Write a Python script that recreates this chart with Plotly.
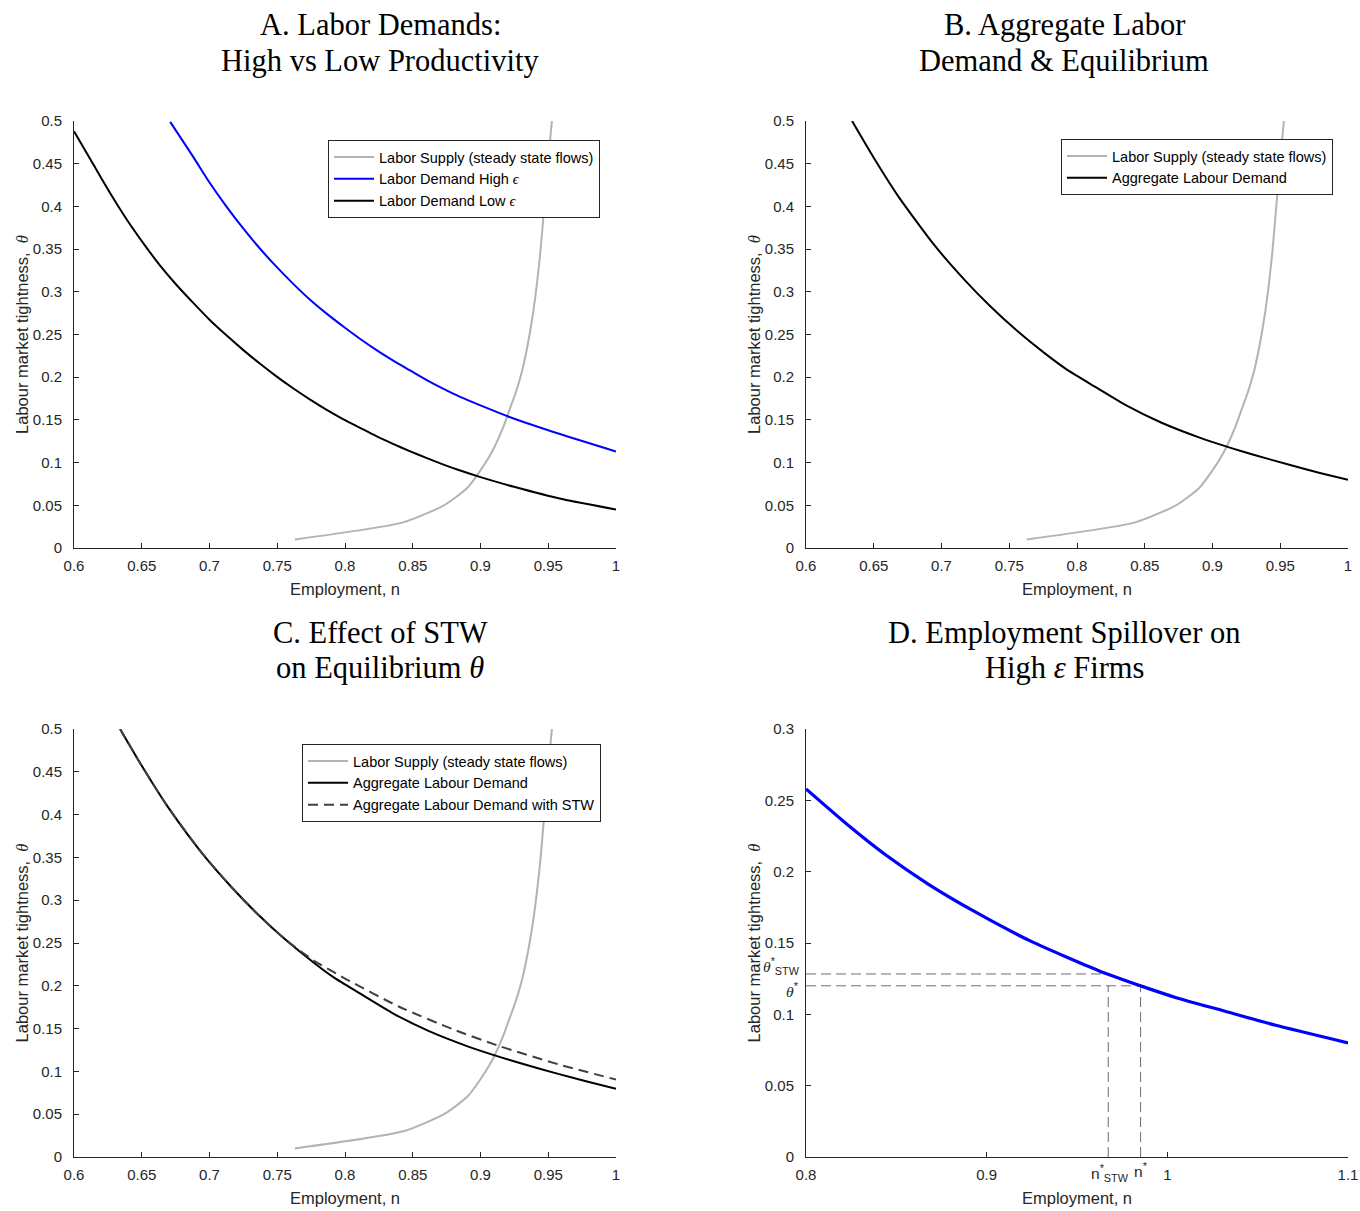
import plotly.graph_objects as go

# ---------------- data ----------------
# Labor supply (steady state flows): employment n vs tightness theta
supply_n = [0.763, 0.843, 0.873, 0.890, 0.8996, 0.9086, 0.9164, 0.9210, 0.9262,
            0.9312, 0.9382, 0.9437, 0.9480, 0.9508, 0.9527, 0.9544]
supply_theta = [0.01, 0.03, 0.05, 0.07, 0.09, 0.113, 0.140, 0.160, 0.183,
                0.2106, 0.269, 0.339, 0.417, 0.468, 0.500, 0.530]

# Panel A: labor demand, high epsilon
high_n = [0.671, 0.688, 0.700, 0.712, 0.724, 0.737, 0.749, 0.762, 0.774, 0.786,
          0.799, 0.811, 0.823, 0.835, 0.848, 0.860, 0.872, 0.885, 0.900, 0.9205,
          0.9574, 1.0]
high_theta = [0.499, 0.458, 0.428, 0.401, 0.376, 0.351, 0.330, 0.309, 0.291, 0.275,
              0.259, 0.245, 0.232, 0.220, 0.208, 0.197, 0.187, 0.177, 0.167, 0.154,
              0.134, 0.113]

# Panel A: labor demand, low epsilon
low_n = [0.600, 0.6143, 0.6265, 0.6388, 0.6511, 0.6634, 0.6757, 0.688, 0.7002,
         0.7125, 0.7248, 0.7371, 0.7494, 0.7617, 0.774, 0.7862, 0.7985, 0.8108,
         0.8231, 0.8354, 0.8477, 0.860, 0.8722, 0.8845, 0.900, 0.924, 0.961, 1.0]
low_theta = [0.488, 0.449, 0.416, 0.385, 0.357, 0.331, 0.308, 0.287, 0.267,
             0.249, 0.232, 0.216, 0.201, 0.187, 0.174, 0.162, 0.151, 0.141,
             0.131, 0.122, 0.1135, 0.1055, 0.098, 0.091, 0.083, 0.072, 0.057, 0.045]

# Panels B & C: aggregate labour demand
agg_n = [0.634, 0.650, 0.668, 0.694, 0.717, 0.736, 0.756, 0.777, 0.792, 0.810,
         0.836, 0.862, 0.891, 0.914, 0.929, 0.958, 0.980, 1.0]
agg_theta = [0.500, 0.457, 0.412, 0.356, 0.314, 0.283, 0.254, 0.227, 0.2095, 0.192,
             0.1673, 0.147, 0.129, 0.117, 0.1098, 0.0968, 0.0876, 0.0798]

# Panel C: aggregate labour demand with STW
stw_n = [0.634, 0.650, 0.668, 0.694, 0.717, 0.736, 0.756, 0.777, 0.800, 0.840,
         0.880, 0.914, 0.958, 1.0]
stw_theta = [0.500, 0.457, 0.412, 0.356, 0.314, 0.283, 0.254, 0.2295, 0.2085, 0.1755,
             0.149, 0.1295, 0.108, 0.0905]

# Panel D: high-epsilon firm labour demand
spill_n = [0.800, 0.8242, 0.844, 0.8676, 0.8932, 0.9247, 0.962, 0.9877, 1.0054,
           1.031, 1.0595, 1.100]
spill_theta = [0.258, 0.2316, 0.2118, 0.1913, 0.1721, 0.1511, 0.1306, 0.1189,
               0.1115, 0.1025, 0.0925, 0.080]
theta_star = 0.120
theta_star_stw = 0.1283
n_star = 0.9852
n_star_stw = 0.9673

# tick values
ticks_theta_top = [0, 0.05, 0.1, 0.15, 0.2, 0.25, 0.3, 0.35, 0.4, 0.45, 0.5]
ticks_n = [0.6, 0.65, 0.7, 0.75, 0.8, 0.85, 0.9, 0.95, 1.0]
ticks_theta_d = [0, 0.05, 0.1, 0.15, 0.2, 0.25, 0.3]
ticks_n_d = [0.8, 0.9, 1.0, 1.1]

def fmt(v):
    return ("%.2f" % v).rstrip("0").rstrip(".")

# ---------------- styling ----------------
W, H = 1360, 1211
AX = "#262626"
SUPPLY = "#b3b3b3"
SANS = "Liberation Sans, Arial, sans-serif"
SERIF = "Liberation Serif, Times New Roman, serif"

def px(x):
    return x / W

def py(y):
    return 1 - y / H

xl = [px(74), px(616)]
xr = [px(806), px(1348)]
yt = [py(548), py(121)]
yb = [py(1157), py(729)]

fig = go.Figure()

def line(x, y, xa, ya, color, width, name=None, dash="solid", legend=None, smooth=True):
    fig.add_trace(go.Scatter(
        x=x, y=y, mode="lines", xaxis=xa, yaxis=ya,
        line=dict(color=color, width=width, dash=dash,
                  shape="spline" if smooth else "linear", smoothing=0.6),
        name=name, showlegend=name is not None, legend=legend,
        hoverinfo="skip"))

eps = "<span style='font-family:Liberation Serif'><i>ϵ</i></span>"

# Panel A
line(supply_n, supply_theta, "x", "y", SUPPLY, 2, "Labor Supply (steady state flows)", legend="legend")
line(high_n, high_theta, "x", "y", "#0000ff", 2, "Labor Demand High " + eps, legend="legend")
line(low_n, low_theta, "x", "y", "#000000", 2, "Labor Demand Low " + eps, legend="legend")

# Panel B
line(supply_n, supply_theta, "x2", "y2", SUPPLY, 2, "Labor Supply (steady state flows)", legend="legend2")
line(agg_n, agg_theta, "x2", "y2", "#000000", 2, "Aggregate Labour Demand", legend="legend2")

# Panel C
line(supply_n, supply_theta, "x3", "y3", SUPPLY, 2, "Labor Supply (steady state flows)", legend="legend3")
line(agg_n, agg_theta, "x3", "y3", "#000000", 2, "Aggregate Labour Demand", legend="legend3")
line(stw_n, stw_theta, "x3", "y3", "#404040", 2, "Aggregate Labour Demand with STW",
     dash="10px,6px", legend="legend3")

# Panel D guides
GUIDE = "#6e6e6e"
GD = "10px,5px"
line([ticks_n_d[0], n_star_stw], [theta_star_stw, theta_star_stw], "x4", "y4", GUIDE, 1, dash=GD, smooth=False)
line([ticks_n_d[0], n_star], [theta_star, theta_star], "x4", "y4", GUIDE, 1, dash=GD, smooth=False)
line([n_star_stw, n_star_stw], [0, theta_star], "x4", "y4", GUIDE, 1, dash=GD, smooth=False)
line([n_star, n_star], [0, theta_star], "x4", "y4", GUIDE, 1, dash=GD, smooth=False)
line(spill_n, spill_theta, "x4", "y4", "#0000ff", 3.2)

ylabel = "Labour market tightness,  <span style='font-family:Liberation Serif'><i>θ</i></span>"

def xaxis(domain, anchor, rng, tv):
    return dict(domain=domain, anchor=anchor, range=rng, tickvals=tv,
                ticktext=[fmt(v) for v in tv], ticks="inside", ticklen=5,
                tickcolor=AX, showline=True, linecolor=AX, linewidth=1,
                showgrid=False, zeroline=False, mirror=False, automargin=False,
                ticklabelstandoff=4, ticklabeloverflow="allow",
                tickfont=dict(family=SANS, size=15, color=AX),
                title=dict(text="Employment, n", font=dict(family=SANS, size=16.5, color=AX),
                           standoff=10))

def yaxis(domain, anchor, rng, tv):
    return dict(domain=domain, anchor=anchor, range=rng, tickvals=tv,
                ticktext=[fmt(v) for v in tv], ticks="inside", ticklen=5,
                tickcolor=AX, showline=True, linecolor=AX, linewidth=1,
                showgrid=False, zeroline=False, mirror=False, automargin=False,
                ticklabelstandoff=8, ticklabeloverflow="allow",
                tickfont=dict(family=SANS, size=15, color=AX),
                title=dict(text=ylabel, font=dict(family=SANS, size=16.5, color=AX),
                           standoff=0))

def legend(xp, yp):
    return dict(x=xp, y=yp, xanchor="right", yanchor="top", xref="paper", yref="paper",
                bgcolor="white", bordercolor=AX, borderwidth=1,
                font=dict(family=SANS, size=14.5, color="#000000"),
                tracegroupgap=0, itemwidth=40)

fig.update_layout(
    width=W, height=H, paper_bgcolor="white", plot_bgcolor="white",
    margin=dict(l=0, r=0, t=0, b=0, autoexpand=False), showlegend=True,
    xaxis=xaxis(xl, "y", [0.6, 1.0], ticks_n),
    yaxis=yaxis(yt, "x", [0, 0.5], ticks_theta_top),
    xaxis2=xaxis(xr, "y2", [0.6, 1.0], ticks_n),
    yaxis2=yaxis(yt, "x2", [0, 0.5], ticks_theta_top),
    xaxis3=xaxis(xl, "y3", [0.6, 1.0], ticks_n),
    yaxis3=yaxis(yb, "x3", [0, 0.5], ticks_theta_top),
    xaxis4=xaxis(xr, "y4", [0.8, 1.1], ticks_n_d),
    yaxis4=yaxis(yb, "x4", [0, 0.3], ticks_theta_d),
    legend=legend(px(600), py(140)),
    legend2=legend(px(1333), py(139)),
    legend3=legend(px(601), py(744)),
)

# Titles (one annotation per line)
TFONT = dict(family=SERIF, size=30.5, color="#000000")
title_lines = [
    (380, 25, "A. Labor Demands:"),
    (380, 61, "High vs Low Productivity"),
    (1064, 25, "B. Aggregate Labor"),
    (1064, 61, "Demand &amp; Equilibrium"),
    (380, 633, "C. Effect of STW"),
    (380, 668, "on Equilibrium <i>θ</i>"),
    (1064, 633, "D. Employment Spillover on"),
    (1064, 668, "High <i>ε</i> Firms"),
]
for cx, cy, txt in title_lines:
    fig.add_annotation(x=px(cx), y=py(cy), xref="paper", yref="paper", text=txt,
                       showarrow=False, xanchor="center", yanchor="middle", font=TFONT)

# Panel D special labels
LFONT = dict(family=SANS, size=15.5, color=AX)
fig.add_annotation(x=xr[0], y=theta_star_stw, xref="paper", yref="y4",
                   text="<span style='font-family:Liberation Serif'><i>θ</i></span><sup>*</sup><sub>STW</sub>",
                   showarrow=False, xanchor="right", yanchor="middle", xshift=-4, yshift=8, font=LFONT)
fig.add_annotation(x=xr[0], y=theta_star, xref="paper", yref="y4",
                   text="<span style='font-family:Liberation Serif'><i>θ</i></span><sup>*</sup>",
                   showarrow=False, xanchor="right", yanchor="middle", xshift=-5, yshift=-4, font=LFONT)
fig.add_annotation(x=n_star_stw, y=yb[0], xref="x4", yref="paper",
                   text="n<sup>*</sup><sub>STW</sub>",
                   showarrow=False, xanchor="center", yanchor="top", yshift=-3, xshift=2, font=LFONT)
fig.add_annotation(x=n_star, y=yb[0], xref="x4", yref="paper",
                   text="n<sup>*</sup>",
                   showarrow=False, xanchor="center", yanchor="top", yshift=-1, font=LFONT)

# remove the default page margin so the figure fills the window exactly
fig.write_html("out.html",
               config={"displayModeBar": False, "staticPlot": True},
               post_script="document.body.style.margin='0';document.body.style.overflow='hidden';")
